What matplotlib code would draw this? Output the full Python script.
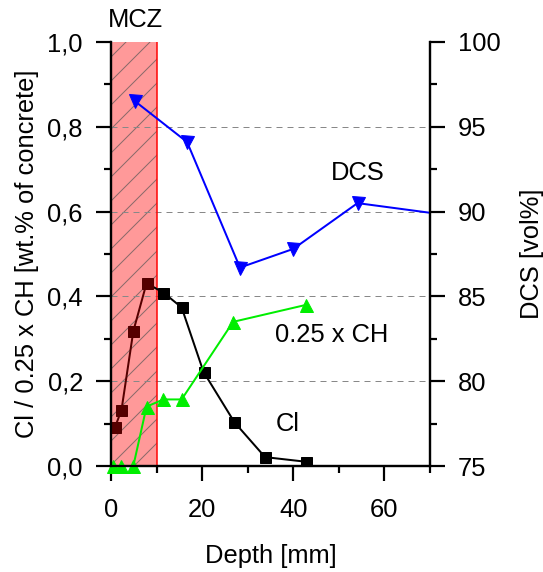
"""Chloride, portlandite and DCS profiles over depth
"""
import matplotlib
matplotlib.use("Agg")
import matplotlib.pyplot as plt
from matplotlib.ticker import MultipleLocator, FuncFormatter

plt.rcParams["font.family"] = ["Liberation Sans", "DejaVu Sans"]
plt.rcParams["font.size"] = 25.5
plt.rcParams["hatch.linewidth"] = 1.0

# chloride profile [wt.% of concrete]
cl_depth = [0.9, 2.3, 4.9, 7.8, 11.5, 15.5, 20.3, 27.1, 33.8, 42.8]
cl_value = [0.092, 0.132, 0.318, 0.431, 0.409, 0.374, 0.222, 0.103, 0.021, 0.010]

# portlandite, scaled by 0.25
ch_depth = [0.5, 2.3, 4.9, 7.8, 11.5, 15.5, 26.8, 42.8]
ch_value = [0.0, 0.0, 0.0, 0.14, 0.157, 0.157, 0.34, 0.38]

# degree of capillary saturation [vol%]
dcs_depth = [5.3, 16.7, 28.3, 40.0, 54.1, 82.0]
dcs_value = [96.5, 94.1, 86.7, 87.8, 90.5, 89.5]

mcz_end = 10.0
grid_levels = [0.2, 0.4, 0.6, 0.8]

# 72 dpi so that point sizes are pixel sizes
fig = plt.figure(figsize=(543 / 72, 572 / 72), dpi=72)
ax = fig.add_axes([0.2044, 0.1853, 0.5875, 0.7413])
ax2 = ax.twinx()

# max chloride zone
ax.axvspan(0, mcz_end, facecolor="#ff9999", edgecolor="#8a6a6a", hatch="/",
           linewidth=0, zorder=1)
ax.axvline(mcz_end, color="red", lw=1.5, zorder=2)
for g in grid_levels:
    ax.axhline(g, color="#888888", lw=1.0, ls=(0, (6, 5)), zorder=1.5)

n_mcz = 4
ax.plot(cl_depth[:n_mcz], cl_value[:n_mcz], "-s", color="#550000", ms=11, lw=2,
        zorder=4, clip_on=False)
ax.plot(cl_depth[n_mcz - 1:], cl_value[n_mcz - 1:], "-", color="black", lw=2,
        zorder=3)
ax.plot(cl_depth[n_mcz:], cl_value[n_mcz:], "s", color="black", ms=11, zorder=4)
ax.plot(ch_depth, ch_value, "-^", color="#00ee00", ms=13, lw=2, zorder=4,
        clip_on=False)
ax2.plot(dcs_depth, dcs_value, "-v", color="#0000ff", ms=13, lw=2)

ax.set_xlim(0, 70)
ax.set_ylim(0, 1.0)
ax2.set_ylim(75, 100)

ax.xaxis.set_major_locator(MultipleLocator(20))
ax.xaxis.set_minor_locator(MultipleLocator(10))
ax.yaxis.set_major_locator(MultipleLocator(0.2))
ax.yaxis.set_minor_locator(MultipleLocator(0.1))
ax.yaxis.set_major_formatter(FuncFormatter(lambda v, p: f"{v:.1f}".replace(".", ",")))
ax2.yaxis.set_major_locator(MultipleLocator(5))
ax2.yaxis.set_minor_locator(MultipleLocator(2.5))

for a in (ax, ax2):
    a.spines["top"].set_visible(False)
    for s in a.spines.values():
        s.set_linewidth(2.2)
    a.tick_params(which="major", direction="out", length=15, width=2.2)
    a.tick_params(which="minor", direction="out", length=7, width=2.2)
ax.tick_params(axis="y", which="major", pad=13)
ax.tick_params(axis="x", which="major", pad=17)
ax2.tick_params(axis="y", which="major", pad=13)
ax2.set_zorder(ax.get_zorder() + 1)

ax.set_xlabel("Depth [mm]", labelpad=22)
ax.set_ylabel("Cl / 0.25 x CH [wt.% of concrete]", labelpad=8)
ax2.set_ylabel("DCS [vol%]", labelpad=19)

ax.text(-0.7, 1.035, "MCZ", ha="left", va="baseline")
ax.text(54.2, 0.69, "DCS", ha="center", va="center")
ax.text(48.5, 0.31, "0.25 x CH", ha="center", va="center")
ax.text(38.7, 0.10, "Cl", ha="center", va="center")

fig.savefig("out.png", dpi=72)
